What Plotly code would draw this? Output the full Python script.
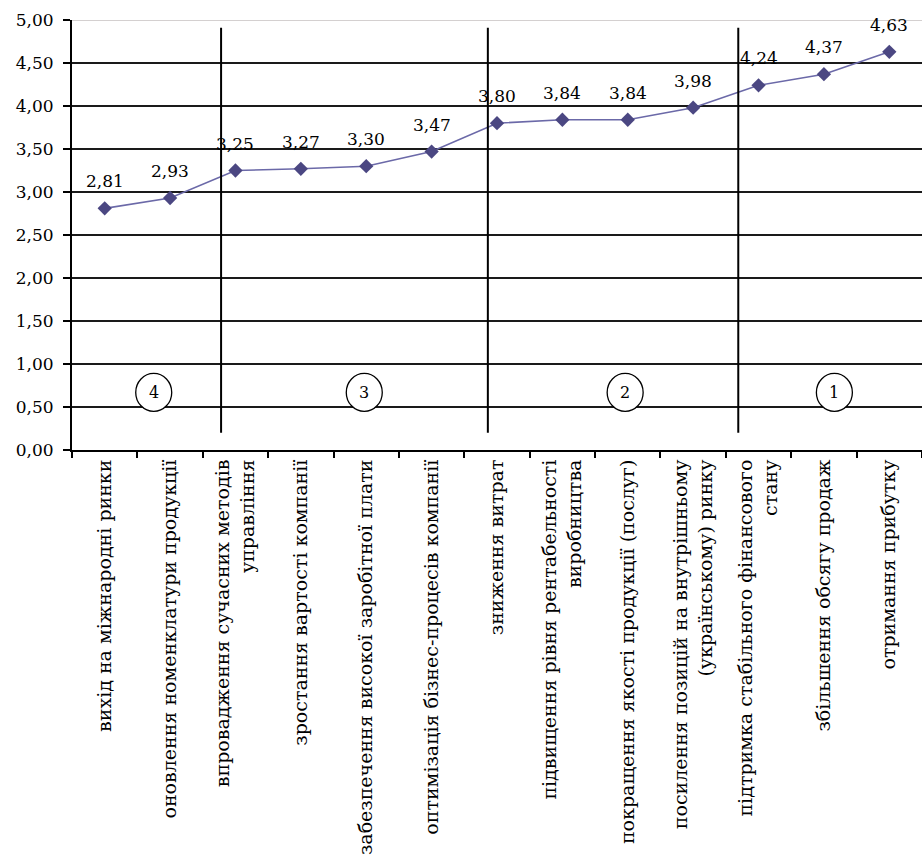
import plotly.graph_objects as go

categories = [
    "вихід на міжнародні ринки",
    "оновлення номенклатури продукції",
    "впровадження сучасних методів<br>управління",
    "зростання вартості компанії",
    "забезпечення високої заробітної плати",
    "оптимізація бізнес-процесів компанії",
    "зниження витрат",
    "підвищення рівня рентабельності<br>виробництва",
    "покращення якості продукції (послуг)",
    "посилення позицій на внутрішньому<br>(українському) ринку",
    "підтримка стабільного фінансового<br>стану",
    "збільшення обсягу продаж",
    "отримання прибутку",
]
values = [2.81, 2.93, 3.25, 3.27, 3.30, 3.47, 3.80, 3.84, 3.84, 3.98, 4.24, 4.37, 4.63]
y_ticks = [0, 0.5, 1.0, 1.5, 2.0, 2.5, 3.0, 3.5, 4.0, 4.5, 5.0]
group_labels = ["4", "3", "2", "1"]

# layout-only positions (category index units)
group_label_x = [0.75, 3.97, 7.96, 11.16]
group_label_y = 0.67
separator_x = [1.78, 5.86, 9.69]

FONT = "DejaVu Serif"

fig = go.Figure()
fig.add_trace(go.Scatter(
    x=categories, y=values, mode="lines+markers",
    line=dict(color="#6b69a8", width=1.6),
    marker=dict(symbol="diamond", size=11, color="#4b4782"),
    cliponaxis=False, showlegend=False,
))

annotations = []
for c, v in zip(categories, values):
    annotations.append(dict(
        x=c, y=v, text=f"{v:.2f}".replace(".", ","), showarrow=False,
        yshift=27, font=dict(family=FONT, size=17, color="black"),
        xref="x", yref="y",
    ))
for gx, gl in zip(group_label_x, group_labels):
    annotations.append(dict(
        x=gx, y=group_label_y, text=gl, showarrow=False,
        font=dict(family=FONT, size=16, color="black"), xref="x", yref="y",
    ))

shapes = []
for sx in separator_x:
    shapes.append(dict(type="line", xref="x", yref="y", x0=sx, x1=sx, y0=0.2, y1=4.91,
                       line=dict(color="black", width=2), layer="above"))
for gx in group_label_x:
    shapes.append(dict(type="circle", xref="x", yref="y", xsizemode="pixel", ysizemode="pixel",
                       xanchor=gx, yanchor=group_label_y, x0=-18, x1=18, y0=-19, y1=19,
                       line=dict(color="black", width=1.3), fillcolor="white", layer="above"))
# top gridline lighter
shapes.append(dict(type="line", xref="paper", yref="y", x0=0, x1=1, y0=5, y1=5,
                   line=dict(color="#d4d0d0", width=2), layer="above"))

fig.update_layout(
    width=922, height=855, autosize=False,
    margin=dict(l=72, r=0, t=20, b=405),
    paper_bgcolor="white", plot_bgcolor="white",
    separators=", ",
    font=dict(family=FONT, color="black"),
    annotations=annotations, shapes=shapes,
    xaxis=dict(
        type="category", categoryorder="array", categoryarray=categories,
        range=[-0.5, len(categories) - 0.5], tickson="boundaries",
        tickangle=-90, tickfont=dict(family=FONT, size=19, color="black"),
        ticks="outside", ticklen=6, tickwidth=2, tickcolor="black",
        showline=True, linecolor="black", linewidth=2, showgrid=False, zeroline=False,
        automargin=False,
    ),
    yaxis=dict(
        range=[0, 5], tickvals=y_ticks, tickformat=".2f",
        tickfont=dict(family=FONT, size=17, color="black"),
        ticks="outside", ticklen=7, tickwidth=2, tickcolor="black",
        showline=True, linecolor="black", linewidth=2,
        showgrid=True, gridcolor="#1a1a1a", gridwidth=2, zeroline=False,
        ticklabelstandoff=6, automargin=False,
    ),
)

fig.write_html("out.html")
